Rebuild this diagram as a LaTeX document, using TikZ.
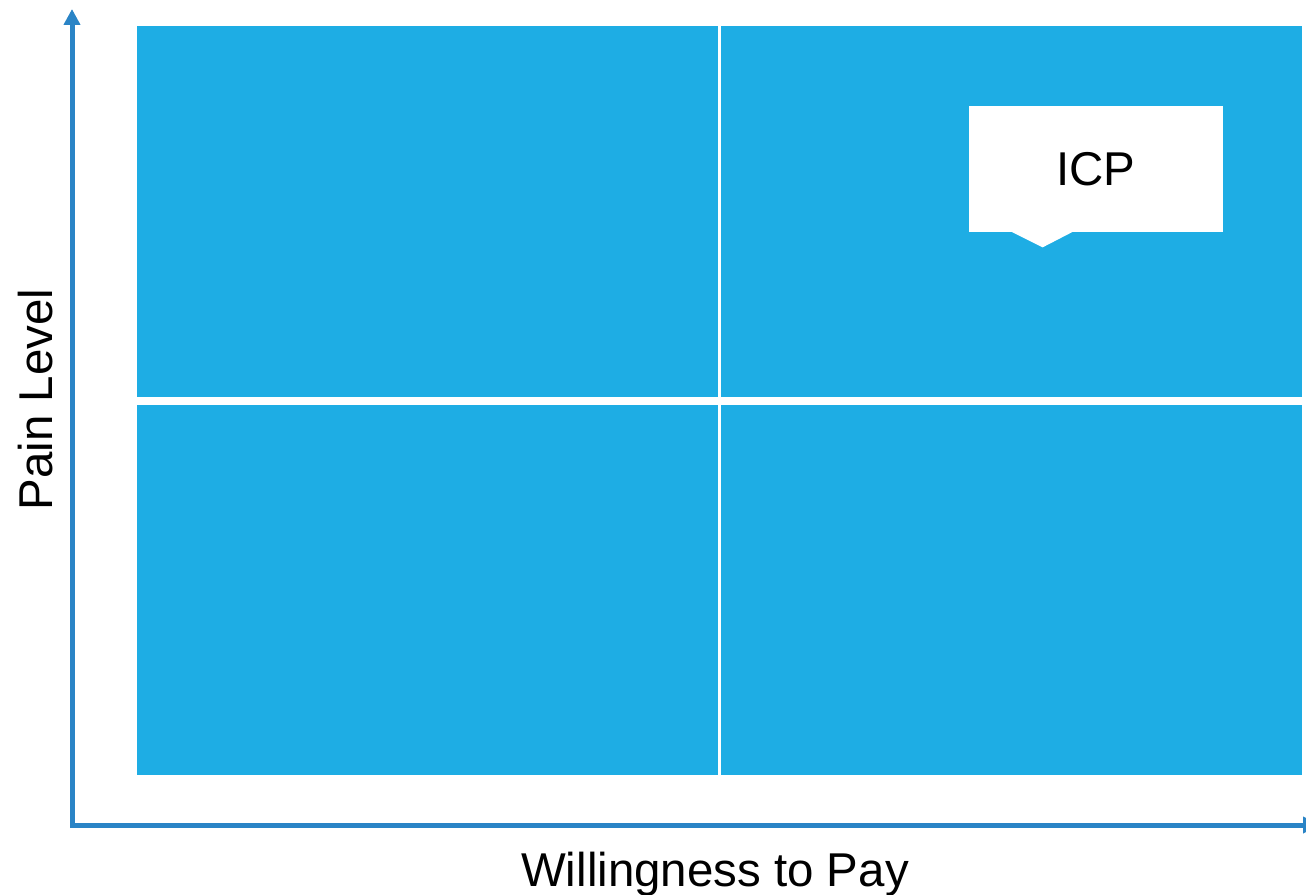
\documentclass[tikz,border=0pt]{standalone}
\usepackage{fontspec}
\setmainfont{Liberation Sans}
\usetikzlibrary{arrows.meta, positioning, calc}
\definecolor{quadblue}{RGB}{30,173,228}
\definecolor{axisblue}{RGB}{42,132,198}

\begin{document}
\begin{tikzpicture}[x=0.2mm, y=-0.2mm,
  quadrant/.style={fill=quadblue, inner sep=0pt, minimum width=116.2mm},
  axisline/.style={draw=axisblue, line width=1mm},
  callout/.style={fill=white, inner sep=0pt, minimum width=50.8mm, minimum height=25.2mm},
  lbl/.style={font=\fontsize{27}{32}\selectfont}]
\useasboundingbox (0,0) rectangle (1306,895);
% four quadrants
\foreach \cx/\cy/\h/\nm in {427.5/211.5/74.2/tl, 1011.5/211.5/74.2/tr, 427.5/590/74/bl, 1011.5/590/74/br}
  \node[quadrant, minimum height=\h mm] (q-\nm) at (\cx,\cy) {};
% axes
\coordinate (origin) at (72,825);
\coordinate (ytip) at (72,9);
\coordinate (xtip) at (1319,825);
\draw[axisline, {Triangle[length=3.2mm, width=3.2mm]}-{Triangle[length=3.2mm, width=3.2mm]}] (ytip) -- (origin) -- (xtip);
\node[lbl, anchor=base] (xlabel) at (715,886) {Willingness to Pay};
\node[lbl, anchor=base, rotate=90] (ylabel) at (52,399.5) {Pain Level};
% callout
\node[callout, lbl] (icp) at (1096,169) {ICP};
\fill[white] ($(icp.south west)+(42,-1)$) -- ($(icp.south west)+(105,-1)$) -- ($(icp.south west)+(74,15)$) -- cycle;
\end{tikzpicture}
\end{document}
